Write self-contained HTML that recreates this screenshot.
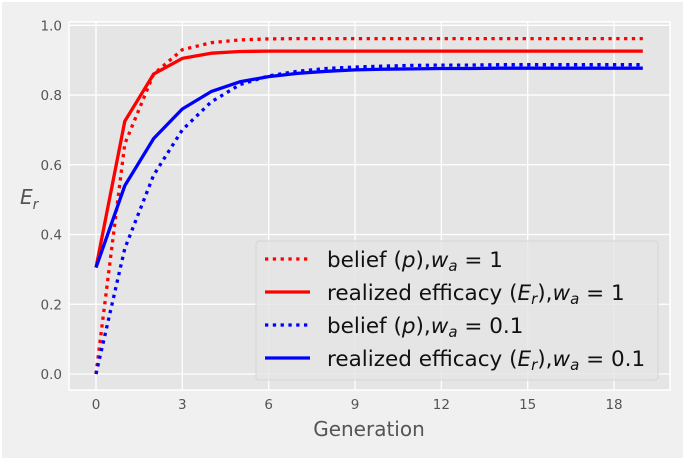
<!DOCTYPE html>
<html><head><meta charset="utf-8"><style>
html,body{margin:0;padding:0;background:#fff}
svg{display:block;font-family:"DejaVu Sans","Liberation Sans",sans-serif}
</style></head><body>
<svg id="chart" width="685" height="460" viewBox="0 0 685 460">
<rect x="2" y="2" width="681" height="456" fill="#f0f0f0"/>
<rect x="69" y="22" width="601" height="368" fill="#e5e5e5" stroke="#fff" stroke-width="1.5"/>
<g id="grid"></g>
<g id="ticks"></g>
<g id="series"></g>
<text x="369" y="436" font-size="20" fill="#555" text-anchor="middle">Generation</text>
<text x="20" y="204" font-size="20" fill="#555" font-style="italic">E<tspan font-size="14" dy="5">r</tspan></text>
<g>
<rect x="256" y="241" width="402" height="139" rx="3" fill="#e5e5e5" fill-opacity="0.8" stroke="#d5d5d5"/>
<line x1="265" y1="259" x2="310" y2="259" stroke="#f00" stroke-width="3.3" stroke-dasharray="3.3,4.5"/>
<line x1="265" y1="292" x2="310" y2="292" stroke="#f00" stroke-width="3.3"/>
<line x1="265" y1="325" x2="310" y2="325" stroke="#00f" stroke-width="3.3" stroke-dasharray="3.3,4.5"/>
<line x1="265" y1="358" x2="310" y2="358" stroke="#00f" stroke-width="3.3"/>
<g font-size="21.5" fill="#111">
<text x="327" y="267">belief (<tspan font-style="italic">p</tspan>),<tspan font-style="italic">w</tspan><tspan font-size="15" dy="4" font-style="italic">a</tspan><tspan dy="-4"> = 1</tspan></text>
<text x="327" y="300">realized efficacy (<tspan font-style="italic">E</tspan><tspan font-size="15" dy="4" font-style="italic">r</tspan><tspan dy="-4">),</tspan><tspan font-style="italic">w</tspan><tspan font-size="15" dy="4" font-style="italic">a</tspan><tspan dy="-4"> = 1</tspan></text>
<text x="327" y="333">belief (<tspan font-style="italic">p</tspan>),<tspan font-style="italic">w</tspan><tspan font-size="15" dy="4" font-style="italic">a</tspan><tspan dy="-4"> = 0.1</tspan></text>
<text x="327" y="366">realized efficacy (<tspan font-style="italic">E</tspan><tspan font-size="15" dy="4" font-style="italic">r</tspan><tspan dy="-4">),</tspan><tspan font-style="italic">w</tspan><tspan font-size="15" dy="4" font-style="italic">a</tspan><tspan dy="-4"> = 0.1</tspan></text>
</g>
</g>
</svg>
<script>
const generations=[0,1,2,3,4,5,6,7,8,9,10,11,12,13,14,15,16,17,18,19];
const beliefW1=[0,0.66,0.86,0.93,0.95,0.958,0.961,0.962,0.962,0.962,0.962,0.962,0.962,0.962,0.962,0.962,0.962,0.962,0.962,0.962];
const realizedW1=[0.305,0.725,0.86,0.905,0.92,0.925,0.926,0.926,0.926,0.926,0.926,0.926,0.926,0.926,0.926,0.926,0.926,0.926,0.926,0.926];
const beliefW01=[0,0.36,0.57,0.70,0.78,0.83,0.855,0.868,0.876,0.88,0.883,0.885,0.886,0.886,0.887,0.887,0.887,0.887,0.887,0.887];
const realizedW01=[0.305,0.54,0.675,0.76,0.81,0.838,0.853,0.862,0.868,0.872,0.874,0.875,0.876,0.876,0.877,0.877,0.877,0.877,0.877,0.877];
const xTicks=[0,3,6,9,12,15,18];
const yTicks=[0.0,0.2,0.4,0.6,0.8,1.0];
const NS="http://www.w3.org/2000/svg";
function xs(v){return 96+v*28.78;}
function ys(v){return 374-v*348.7;}
function mk(tag,attrs,parent){const e=document.createElementNS(NS,tag);for(const k in attrs)e.setAttribute(k,attrs[k]);parent.appendChild(e);return e;}
const grid=document.getElementById('grid'),ticks=document.getElementById('ticks'),series=document.getElementById('series');
xTicks.forEach(t=>{
  const l=mk('line',{x1:xs(t),x2:xs(t),y1:22,y2:390,stroke:'#fff','stroke-width':1.3},grid);
  
  
  const tx=mk('text',{x:xs(t),y:409,'font-size':13.5,fill:'#555','text-anchor':'middle'},ticks);
  tx.textContent=t;
  
  
});
yTicks.forEach(t=>{
  const l=mk('line',{x1:69,x2:670,y1:ys(t),y2:ys(t),stroke:'#fff','stroke-width':1.3},grid);
  
  
  const tx=mk('text',{x:62,y:ys(t)+5,'font-size':13.5,fill:'#555','text-anchor':'end'},ticks);
  tx.textContent=t.toFixed(1);
  
  
});
function draw(vals,color,dash,name){
  const d=vals.map((v,i)=>(i?'L':'M')+xs(generations[i]).toFixed(1)+','+ys(v).toFixed(1)).join('');
  const attrs={d:d,fill:'none',stroke:color,'stroke-width':3.3,'stroke-linejoin':'round'};
  if(dash)attrs['stroke-dasharray']='3.3,4.5';
  const p=mk('path',attrs,series);
  
  
}
draw(beliefW1,'#f00',true,'line-belief-w1');
draw(realizedW1,'#f00',false,'line-realized-w1');
draw(beliefW01,'#00f',true,'line-belief-w01');
draw(realizedW01,'#00f',false,'line-realized-w01');
</script>
</body></html>
